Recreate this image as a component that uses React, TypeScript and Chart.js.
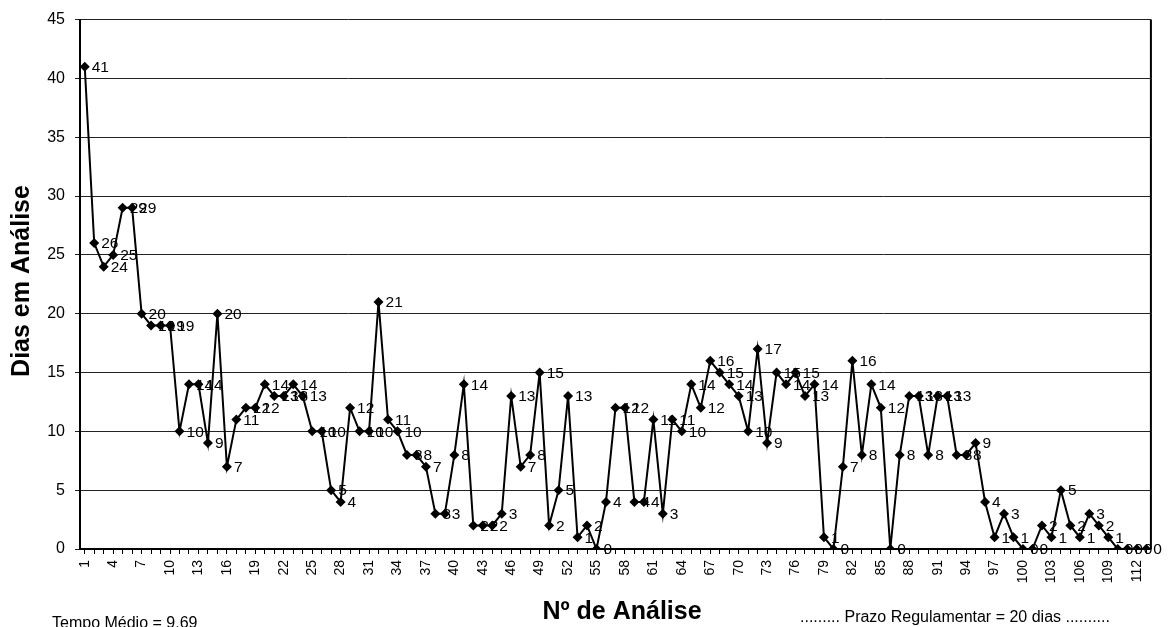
import React, { useEffect, useRef } from 'react';
import { Chart, registerables } from 'chart.js';

Chart.register(...registerables);

const categories: string[] = [
  '1','2','3','4','5','6','7','8','9','10','11','12','13','14','15','16','17','18','19','20',
  '21','22','23','24','25','26','27','28','29','30','31','32','33','34','35','36','37','38','39','40',
  '41','42','43','44','45','46','47','48','49','50','51','52','53','54','55','56','57','58','59','60',
  '61','62','63','64','65','66','67','68','69','70','71','72','73','74','75','76','77','78','79','80',
  '81','82','83','84','85','86','87','88','89','90','91','92','93','94','95','96','97','98','99','100',
  '101','102','103','104','105','106','107','108','109','110','111','112','113',
];

const diasEmAnalise: number[] = [
  41, 26, 24, 25, 29, 29, 20, 19, 19, 19,
  10, 14, 14, 9, 20, 7, 11, 12, 12, 14,
  13, 13, 14, 13, 10, 10, 5, 4, 12, 10,
  10, 21, 11, 10, 8, 8, 7, 3, 3, 8,
  14, 2, 2, 2, 3, 13, 7, 8, 15, 2,
  5, 13, 1, 2, 0, 4, 12, 12, 4, 4,
  11, 3, 11, 10, 14, 12, 16, 15, 14, 13,
  10, 17, 9, 15, 14, 15, 13, 14, 1, 0,
  7, 16, 8, 14, 12, 0, 8, 13, 13, 8,
  13, 13, 8, 8, 9, 4, 1, 3, 1, 0,
  0, 2, 1, 5, 2, 1, 3, 2, 1, 0,
  0, 0, 0,
];

const xTickLabels: string[] = [
  '1','4','7','10','13','16','19','22','25','28','31','34','37','40','43','46','49','52','55',
  '58','61','64','67','70','73','76','79','82','85','88','91','94','97','100','103','106','109','112',
];

const yTitle = 'Dias em Análise';
const xTitle = 'Nº de Análise';
const footLeft = 'Tempo Médio = 9,69';
const footRight = '......... Prazo Regulamentar = 20 dias ..........';

const FONT = '"Liberation Sans", Arial, sans-serif';

const annotPlugin = {
  id: 'annot',
  afterDatasetsDraw(chart: any) {
    const ctx = chart.ctx;
    const meta = chart.getDatasetMeta(0);
    ctx.save();
    ctx.font = `15.5px ${FONT}`;
    ctx.fillStyle = '#000';
    ctx.textBaseline = 'middle';
    ctx.textAlign = 'left';
    meta.data.forEach((pt: any, i: number) => {
      ctx.fillText(String(diasEmAnalise[i]), pt.x + 7, pt.y + 1);
    });
    ctx.restore();
  },
  afterDraw(chart: any) {
    const ctx = chart.ctx;
    const a = chart.chartArea;
    ctx.save();
    ctx.strokeStyle = '#000';
    ctx.lineWidth = 2;
    ctx.beginPath();
    ctx.moveTo(a.right, a.top);
    ctx.lineTo(a.right, a.bottom);
    ctx.stroke();

    ctx.fillStyle = '#000';
    // y title
    ctx.save();
    ctx.translate(22, 281);
    ctx.rotate(-Math.PI / 2);
    ctx.font = `bold 25px ${FONT}`;
    ctx.textAlign = 'center';
    ctx.textBaseline = 'middle';
    ctx.fillText(yTitle, 0, 0);
    ctx.restore();

    // x title
    ctx.font = `bold 25px ${FONT}`;
    ctx.textAlign = 'center';
    ctx.textBaseline = 'alphabetic';
    ctx.fillText(xTitle, 622, 619);

    ctx.font = `16px ${FONT}`;
    ctx.textAlign = 'left';
    ctx.textBaseline = 'top';
    ctx.fillText(footLeft, 52, 616);
    ctx.fillText(footRight, 800, 610);
    ctx.restore();
  },
};

export default function App() {
  const ref = useRef<HTMLCanvasElement | null>(null);

  useEffect(() => {
    if (!ref.current) return;
    const chart = new Chart(ref.current, {
      type: 'line',
      data: {
        labels: categories,
        datasets: [
          {
            data: diasEmAnalise,
            borderColor: '#000',
            backgroundColor: '#000',
            borderWidth: 2,
            pointStyle: 'rectRot',
            pointRadius: 5,
            pointBackgroundColor: '#000',
            pointBorderColor: '#000',
            pointBorderWidth: 0,
            tension: 0,
            fill: false,
          },
        ],
      },
      options: {
        animation: false,
        responsive: true,
        maintainAspectRatio: false,
        layout: { padding: { left: 0, right: 7, top: 17, bottom: 0 } },
        plugins: {
          legend: { display: false },
          tooltip: { enabled: false },
        },
        scales: {
          x: {
            type: 'category',
            offset: true,
            afterFit: (s: any) => {
              s.height = 78;
            },
            grid: {
              display: true,
              drawOnChartArea: false,
              drawTicks: true,
              tickLength: 5,
              color: '#000',
              offset: false,
            },
            border: { display: true, color: '#000', width: 2 },
            ticks: {
              autoSkip: false,
              maxRotation: 90,
              minRotation: 90,
              padding: 6,
              color: '#000',
              font: { family: FONT, size: 14 },
              callback: (_v: any, idx: number) =>
                xTickLabels.includes(categories[idx]) ? categories[idx] : '',
            },
          },
          y: {
            min: 0,
            max: 45,
            afterFit: (s: any) => {
              s.width = 80;
            },
            grid: {
              color: '#222',
              lineWidth: 1,
              drawTicks: true,
              tickLength: 5,
            },
            border: { display: true, color: '#000', width: 2 },
            ticks: {
              stepSize: 5,
              padding: 10,
              color: '#000',
              font: { family: FONT, size: 16 },
            },
          },
        },
      },
      plugins: [annotPlugin],
    });
    return () => chart.destroy();
  }, []);

  return (
    <div style={{ position: 'absolute', left: 0, top: 0, width: 1169, height: 627, background: '#fff' }}>
      <canvas ref={ref} />
    </div>
  );
}
